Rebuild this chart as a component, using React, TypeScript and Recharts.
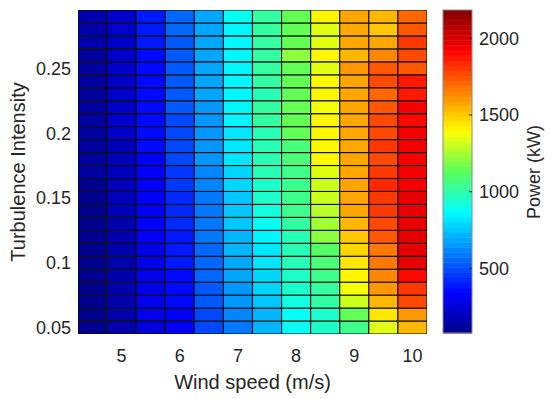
import React from 'react';
import { ScatterChart, Scatter, XAxis, YAxis, Label } from 'recharts';

// wind speed columns (m/s)
const windSpeeds = [4.5, 5, 5.5, 6, 6.5, 7, 7.5, 8, 8.5, 9, 9.5, 10];
// turbulence intensity rows, bottom to top
const turbulence = [
  0.05, 0.06, 0.07, 0.08, 0.09, 0.1, 0.11, 0.12, 0.13, 0.14, 0.15, 0.16, 0.17,
  0.18, 0.19, 0.2, 0.21, 0.22, 0.23, 0.24, 0.25, 0.26, 0.27, 0.28, 0.29,
];

// power (kW) per wind speed, one value per turbulence row (bottom to top)
const power45 = [80, 82, 84, 86, 89, 92, 95, 98, 101, 104, 107, 110, 113, 117, 120, 124, 127, 130, 134, 137, 140, 143, 146, 148, 150];
const power50 = [144, 148, 152, 156, 160, 164, 168, 172, 176, 180, 185, 190, 195, 200, 205, 210, 214, 218, 222, 226, 230, 232, 236, 238, 240];
const power55 = [272, 278, 285, 290, 295, 300, 305, 310, 315, 320, 325, 330, 335, 340, 344, 348, 352, 356, 360, 365, 368, 372, 375, 378, 380];
const power60 = [330, 337, 345, 355, 365, 376, 388, 400, 412, 425, 438, 450, 465, 480, 488, 494, 500, 506, 512, 518, 525, 530, 535, 540, 545];
const power65 = [480, 500, 520, 535, 548, 560, 570, 578, 585, 592, 602, 615, 630, 648, 654, 660, 665, 670, 675, 680, 684, 688, 692, 696, 700];
const power70 = [590, 615, 640, 665, 685, 700, 715, 730, 740, 750, 760, 770, 780, 820, 828, 835, 840, 845, 850, 855, 858, 862, 865, 868, 870];
const power75 = [710, 730, 750, 770, 790, 810, 830, 865, 875, 910, 940, 960, 975, 975, 980, 995, 1000, 1000, 995, 1000, 1005, 1000, 1010, 1000, 1005];
const power80 = [885, 875, 915, 945, 955, 970, 985, 995, 1015, 1035, 1050, 1055, 1060, 1075, 1080, 1135, 1140, 1135, 1140, 1145, 1140, 1200, 1140, 1145, 1140];
const power85 = [965, 955, 1000, 1020, 1050, 1075, 1130, 1205, 1245, 1265, 1305, 1305, 1345, 1400, 1400, 1400, 1395, 1390, 1395, 1395, 1345, 1395, 1345, 1345, 1395];
const power90 = [1050, 1150, 1305, 1365, 1400, 1430, 1470, 1515, 1555, 1565, 1565, 1585, 1575, 1585, 1585, 1585, 1585, 1585, 1585, 1585, 1595, 1535, 1575, 1575, 1575];
const power95 = [1330, 1450, 1535, 1600, 1640, 1660, 1685, 1725, 1765, 1805, 1805, 1825, 1805, 1765, 1805, 1765, 1765, 1725, 1705, 1765, 1745, 1640, 1565, 1495, 1535];
const power100 = [1535, 1600, 1765, 1805, 1900, 1960, 1965, 1965, 1980, 1985, 1985, 1935, 1930, 1950, 1950, 1940, 1890, 1940, 1870, 1870, 1725, 1785, 1805, 1725, 1705];

const powerByWind = [power45, power50, power55, power60, power65, power70, power75, power80, power85, power90, power95, power100];

const xTicks = [5, 6, 7, 8, 9, 10];
const yTicks = [0.05, 0.1, 0.15, 0.2, 0.25];
const colorTicks = [500, 1000, 1500, 2000];
const C_MIN = 78;
const C_MAX = 2185;

const W = 550;
const H = 399;
const MARGIN = { top: 10, right: 123, bottom: 0, left: 0 };
const Y_AXIS_W = 78;
const X_AXIS_H = 65;
const PLOT_W = W - MARGIN.left - MARGIN.right - Y_AXIS_W;
const PLOT_H = H - MARGIN.top - MARGIN.bottom - X_AXIS_H;
const CELL_W = PLOT_W / windSpeeds.length;
const CELL_H = PLOT_H / turbulence.length;

const FONT = '"Liberation Sans", Arial, sans-serif';
const TEXT = '#262626';
const TICK_SIZE = 18;

// jet-like colormap, quantised to 64 levels like matlab
const stops: [number, number[]][] = [
  [0, [0, 0, 135]],
  [0.125, [0, 0, 255]],
  [0.375, [0, 255, 255]],
  [0.5, [90, 255, 90]],
  [0.625, [255, 255, 0]],
  [0.875, [255, 0, 0]],
  [1, [128, 0, 0]],
];

const rampAt = (t: number) => {
  for (let i = 1; i < stops.length; i++) {
    const [t1, c1] = stops[i];
    const [t0, c0] = stops[i - 1];
    if (t <= t1) {
      const f = (t - t0) / (t1 - t0);
      const c = c0.map((v, k) => Math.round(v + (c1[k] - v) * f));
      return `rgb(${c[0]},${c[1]},${c[2]})`;
    }
  }
  return 'rgb(128,0,0)';
};

const LEVELS = 64;
const colorFor = (v: number) => {
  const t = Math.min(1, Math.max(0, (v - C_MIN) / (C_MAX - C_MIN)));
  const idx = Math.min(LEVELS - 1, Math.floor(t * LEVELS));
  return rampAt((idx + 0.5) / LEVELS);
};

const cells = windSpeeds.flatMap((w, i) =>
  turbulence.map((ti, j) => ({ wind: w, ti, power: powerByWind[i][j] }))
);

const HeatCell = (props: any) => {
  const { cx, cy, payload } = props;
  if (cx == null || cy == null) return null;
  return (
    <rect
      x={cx - CELL_W / 2}
      y={cy - CELL_H / 2}
      width={CELL_W}
      height={CELL_H}
      fill={colorFor(payload.power)}
      stroke="#111"
      strokeWidth={1.1}
    />
  );
};

// colorbar drawn next to the plot
const CB_X = 443;
const CB_W = 29;
const CB_TOP = MARGIN.top;
const CB_H = PLOT_H - 1;

const ColorBar = () => {
  const bands = Array.from({ length: LEVELS }, (_, i) => i);
  const yOf = (v: number) => CB_TOP + ((C_MAX - v) / (C_MAX - C_MIN)) * CB_H;
  return (
    <svg width={W} height={H} style={{ position: 'absolute', left: 0, top: 0, pointerEvents: 'none' }}>
      {bands.map((i) => (
        <rect
          key={i}
          x={CB_X}
          y={CB_TOP + CB_H - ((i + 1) * CB_H) / LEVELS}
          width={CB_W}
          height={CB_H / LEVELS + 0.5}
          fill={rampAt((i + 0.5) / LEVELS)}
        />
      ))}
      <rect x={CB_X} y={CB_TOP} width={CB_W} height={CB_H} fill="none" stroke="#8c8c8c" strokeWidth={1} />
      {colorTicks.map((v) => (
        <g key={v}>
          <line x1={CB_X + CB_W - 3} x2={CB_X + CB_W} y1={yOf(v)} y2={yOf(v)} stroke="#262626" strokeWidth={1} />
          <text x={CB_X + CB_W + 7} y={yOf(v)} dy="0.36em" fontSize={TICK_SIZE} fontFamily={FONT} fill={TEXT}>
            {v}
          </text>
        </g>
      ))}
      <text
        x={534}
        y={172}
        transform="rotate(-90 534 172)"
        textAnchor="middle"
        dy="0.36em"
        fontSize={18}
        fontFamily={FONT}
        fill={TEXT}
      >
        Power (kW)
      </text>
    </svg>
  );
};

export default function App() {
  return (
    <div style={{ position: 'absolute', left: 0, top: 0, width: W, height: H, background: '#fff' }}>
      <ScatterChart width={W} height={H} margin={MARGIN}>
        <XAxis
          type="number"
          dataKey="wind"
          domain={[4.25, 10.25]}
          ticks={xTicks}
          allowDataOverflow
          axisLine={false}
          tickLine={false}
          tickSize={0}
          tickMargin={15}
          height={X_AXIS_H}
          tick={{ fontSize: TICK_SIZE, fontFamily: FONT, fill: TEXT }}
        >
          <Label
            value="Wind speed (m/s)"
            position="insideBottom"
            offset={10}
            style={{ fontSize: 20, fontFamily: FONT, fill: TEXT }}
          />
        </XAxis>
        <YAxis
          type="number"
          dataKey="ti"
          domain={[0.045, 0.295]}
          ticks={yTicks}
          allowDataOverflow
          axisLine={false}
          tickLine={false}
          tickSize={0}
          tickMargin={7}
          width={Y_AXIS_W}
          tickFormatter={(v: number) => String(v)}
          tick={{ fontSize: TICK_SIZE, fontFamily: FONT, fill: TEXT }}
        >
          <Label
            value="Turbulence Intensity"
            angle={-90}
            position="insideLeft"
            offset={18}
            style={{ textAnchor: 'middle', fontSize: 20, fontFamily: FONT, fill: TEXT }}
          />
        </YAxis>
        <Scatter data={cells} shape={<HeatCell />} isAnimationActive={false} />
      </ScatterChart>
      <ColorBar />
    </div>
  );
}
